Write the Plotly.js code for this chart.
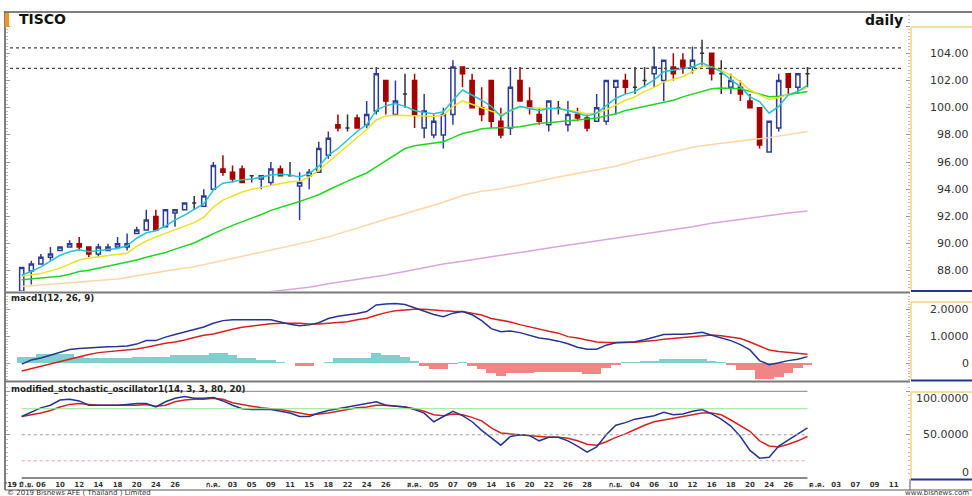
<!DOCTYPE html>
<html><head><meta charset="utf-8">
<script src="https://cdn.plot.ly/plotly-3.0.1.min.js"></script>
<style>html,body{margin:0;padding:0;background:#fff;}#chart{width:972px;height:496px;}</style>
</head><body><div id="chart"></div>
<script>
// ---------------- DATA ----------------
const openP = [86.5,88.0,88.5,89.0,89.5,89.75,90.0,89.75,89.25,89.5,
 89.75,89.75,90.75,91.0,92.0,91.25,92.25,92.5,93.0,92.75,
 94.0,95.5,95.25,95.5,95.0,94.75,94.5,95.5,95.0,94.25,
 95.0,95.25,96.5,98.75,98.5,99.25,98.75,99.75,102.0,99.5,
 101.0,102.0,98.5,98.0,98.0,99.5,103.0,102.0,100.0,102.0,
 99.0,98.5,102.0,100.5,99.5,98.75,100.0,98.75,99.5,99.25,
 99.0,99.0,101.5,102.0,101.5,102.0,102.5,102.0,103.0,103.5,
 103.0,104.0,104.0,102.5,101.5,101.5,100.5,100.0,96.75,98.5,
 102.5,101.5,102.5];
const highP = [88.25,88.75,89.25,89.75,89.75,90.25,90.5,89.75,90.0,90.0,
 90.5,90.75,91.25,92.5,92.5,92.5,92.5,93.0,93.5,94.0,
 96.0,96.5,95.75,95.75,95.0,95.0,96.0,95.75,96.0,95.25,
 95.5,97.5,98.25,99.5,99.5,99.5,100.5,103.0,102.0,102.0,
 102.5,102.5,101.0,99.5,100.0,103.5,103.0,102.5,101.5,102.0,
 100.0,103.0,103.0,101.5,100.0,100.5,100.5,100.5,100.0,99.5,
 101.0,102.0,102.0,102.5,103.0,103.0,104.5,103.5,104.0,104.0,
 104.5,105.0,104.0,103.5,102.5,102.0,101.0,100.0,99.0,102.5,
 102.5,102.5,103.0];
const lowP = [86.5,87.0,88.5,88.75,89.5,89.75,89.5,89.0,89.0,89.5,
 89.75,89.5,90.75,91.0,91.0,91.25,91.25,92.5,92.5,92.75,
 94.0,95.0,94.5,94.5,94.5,94.0,94.25,95.0,95.0,91.75,
 94.0,95.25,96.25,98.25,98.25,98.5,98.5,99.5,99.5,99.5,
 100.0,98.5,97.75,97.75,97.0,98.75,101.5,100.0,99.0,98.5,
 97.75,98.0,100.5,99.5,98.75,98.25,99.5,98.25,99.0,98.25,
 99.0,98.75,99.5,101.0,101.0,101.5,101.5,100.5,102.0,102.5,
 102.5,103.0,102.0,101.0,101.0,100.5,100.0,97.0,96.75,98.25,
 101.0,101.0,101.5];
const closeP = [88.25,88.5,89.0,89.25,89.75,90.0,89.75,89.25,89.75,89.75,
 90.0,90.0,91.0,91.75,91.0,92.5,92.5,93.0,93.0,93.5,
 95.75,95.25,94.75,94.5,95.0,95.0,95.5,95.0,95.0,94.5,
 95.25,97.0,97.75,98.5,98.5,98.5,99.5,102.5,100.5,100.5,
 101.0,99.5,99.75,99.0,99.5,103.0,102.5,100.0,99.5,99.0,
 98.0,101.5,100.5,100.0,99.0,100.5,100.0,99.5,99.25,98.5,
 100.0,102.0,102.0,101.5,101.5,102.0,103.0,103.5,102.5,103.0,
 103.5,104.0,102.5,102.5,102.0,101.0,100.0,97.25,99.0,102.0,
 101.5,102.5,102.5];

// moving averages (cyan, yellow, green: one reading per session)
const maCyan = [87.7,87.95,88.3,88.7,89.15,89.4,89.55,89.4,89.5,89.6,
 89.65,89.85,90.4,90.8,90.95,91.3,91.75,92.1,92.5,92.95,
 93.95,94.45,94.55,94.7,94.75,94.9,95.05,95.1,95.05,94.9,
 95.15,95.7,96.5,97.0,97.6,98.25,98.75,99.8,100.15,100.3,
 100.1,99.8,99.65,99.55,99.7,100.55,101.3,100.95,100.55,100.1,
 99.35,99.8,100.1,99.95,99.8,99.95,99.95,99.8,99.6,99.4,
 99.6,100.15,100.7,101.0,101.2,101.6,102.05,102.65,102.75,102.9,
 103.0,103.3,103.0,102.65,102.05,101.55,100.8,100.45,99.6,100.1,
 100.95,101.2,101.65];
const maYellow = [87.6,87.7,87.8,88.0,88.2,88.5,88.8,88.95,89.05,89.1,
 89.2,89.3,89.8,90.2,90.5,90.75,91.0,91.3,91.55,91.95,
 92.7,93.2,93.5,93.8,94.0,94.15,94.3,94.45,94.55,94.6,
 94.9,95.4,96.0,96.6,97.2,97.8,98.4,99.1,99.4,99.45,
 99.45,99.4,99.4,99.35,99.45,100.1,100.5,100.25,100.0,99.8,
 99.5,99.75,100.05,100.0,99.95,99.95,99.95,99.85,99.7,99.55,
 99.6,99.85,100.2,100.55,100.8,101.2,101.5,101.9,102.1,102.3,
 102.65,103.1,103.0,102.75,102.4,101.9,101.3,100.95,100.6,100.75,
 100.95,101.2,101.5];
const maGreen = [87.35,87.4,87.45,87.5,87.6,87.75,87.95,88.05,88.2,88.3,
 88.45,88.6,88.8,89.0,89.15,89.35,89.6,89.8,90.05,90.4,
 90.75,91.05,91.35,91.6,91.85,92.15,92.45,92.65,92.85,93.1,
 93.35,93.6,93.95,94.3,94.6,94.9,95.2,95.65,96.1,96.6,
 97.0,97.2,97.3,97.4,97.5,97.8,98.1,98.25,98.45,98.5,
 98.5,98.55,98.6,98.75,98.85,98.9,99.0,99.05,99.1,99.15,
 99.25,99.4,99.55,99.8,99.95,100.05,100.25,100.4,100.55,100.8,
 101.0,101.25,101.4,101.45,101.45,101.4,101.2,101.0,100.8,100.85,
 100.95,101.05,101.2];
// slow averages (readings every second session)
const maPeachIdx = [0,2,4,6,8,10,12,14,16,18,20,22,24,26,28,30,32,34,36,38,40,
 42,44,46,48,50,52,54,56,58,60,62,64,66,68,70,72,74,76,78,80,82];
const maPeach = [86.85,86.95,87.05,87.15,87.25,87.4,87.65,87.9,88.1,88.3,88.6,
 88.95,89.25,89.5,89.8,90.15,90.5,90.95,91.35,91.8,92.2,
 92.6,93.05,93.55,93.85,94.05,94.3,94.6,94.9,95.15,95.4,
 95.7,96.1,96.45,96.8,97.1,97.3,97.5,97.65,97.8,98.0,98.25];
const maPurpleIdx = [22,24,26,28,30,32,34,36,38,40,42,44,46,48,50,52,54,56,58,60,
 62,64,66,68,70,72,74,76,78,80,82];
const maPurple = [86.15,86.3,86.5,86.65,86.8,87.05,87.25,87.45,87.7,87.95,
 88.25,88.5,88.7,88.95,89.15,89.35,89.6,89.8,90.0,90.2,
 90.4,90.6,90.85,91.05,91.25,91.5,91.7,91.9,92.1,92.25,92.4];
const priceLevels = [104.4, 102.9];

const macdLine = [-0.03,0.12,0.2,0.31,0.42,0.52,0.55,0.58,0.6,0.62,
 0.63,0.65,0.72,0.85,0.85,0.98,1.08,1.17,1.27,1.36,
 1.5,1.6,1.63,1.63,1.63,1.63,1.63,1.55,1.46,1.41,
 1.44,1.52,1.68,1.76,1.81,1.87,1.94,2.19,2.22,2.24,
 2.2,2.08,1.96,1.83,1.75,1.88,1.94,1.82,1.6,1.3,
 1.18,1.21,1.15,1.05,0.95,0.9,0.83,0.73,0.6,0.53,
 0.53,0.68,0.77,0.79,0.81,0.88,0.98,1.08,1.09,1.09,
 1.12,1.16,1.05,0.95,0.85,0.7,0.5,0.1,-0.05,0.02,
 0.1,0.15,0.25];
const signalLine = [-0.29,-0.2,-0.12,-0.03,0.07,0.17,0.25,0.33,0.4,0.43,
 0.46,0.49,0.54,0.6,0.68,0.75,0.8,0.87,0.97,1.05,
 1.1,1.2,1.28,1.35,1.4,1.45,1.48,1.5,1.5,1.5,
 1.47,1.47,1.5,1.53,1.56,1.63,1.69,1.8,1.9,1.97,
 2.0,2.03,2.03,1.99,1.97,1.95,1.94,1.88,1.81,1.68,
 1.62,1.55,1.45,1.36,1.28,1.2,1.13,1.0,0.95,0.88,
 0.8,0.78,0.77,0.78,0.79,0.81,0.85,0.9,0.93,0.97,
 1.0,1.03,1.06,1.03,0.98,0.93,0.8,0.65,0.5,0.44,
 0.4,0.37,0.34];
const macdHist = [0.25,0.25,0.34,0.34,0.34,0.34,0.25,0.19,0.19,0.19,
 0.19,0.19,0.25,0.25,0.25,0.25,0.31,0.31,0.31,0.31,
 0.4,0.4,0.31,0.19,0.19,0.12,0.12,0.06,0.02,-0.09,
 -0.09,0.0,0.06,0.19,0.19,0.19,0.19,0.4,0.31,0.31,
 0.25,0.09,-0.1,-0.22,-0.22,-0.03,0.03,-0.1,-0.22,-0.375,
 -0.475,-0.375,-0.375,-0.375,-0.31,-0.31,-0.31,-0.31,-0.31,-0.4,
 -0.4,-0.19,-0.06,0.03,0.03,0.1,0.1,0.16,0.16,0.16,
 0.16,0.16,0.09,0.03,-0.06,-0.25,-0.25,-0.6,-0.6,-0.5,
 -0.375,-0.19,-0.06];

const stochK = [71,76,81,84,90,91,89,84,84,84,
 84,85,86,86,82,88,92,94,92,92,
 93,89,84,80,79,79,79,77,75,71,
 71,75,78,80,82,84,86,88,84,83,
 82,79,75,65,71,77,72,65,55,46,
 38,48,50,49,43,47,47,43,37,30,
 36,50,61,64,68,70,72,76,73,74,
 77,79,74,68,60,48,32,23,24,37,
 44,52,58];
const stochD = [71,73,75,78,82,85,86,85,84,84,
 84,84,84,85,83,84,88,90,91,91,
 92,91,87,85,83,81,80,79,77,75,
 73,74,75,77,79,81,82,84,84,83,
 82,80,77,73,72,74,73,70,66,58,
 52,51,50,49,48,47,47,46,43,39,
 38,42,47,51,56,61,65,67,69,71,
 73,75,75,73,67,60,54,43,37,36,
 39,43,48];
const stochLevels = [100, 80, 50, 20, 0];

// axis labels
const yearLabel = "'19";
const tickIdx = [0.5,2,4,6,8,10,12,14,16,20,22,24,26,28,30,32,34,36,38,
 41,43,45,47,49,51,53,55,57,59,62,64,66,68,70,72,74,76,78,80,83,85,87,89,91];
const tickText = ["มิ.ย.","06","10","12","14","18","20","24","26",
 "ก.ค.","03","05","09","11","15","18","22","24","26",
 "ส.ค.","05","07","09","14","16","20","22","26","28",
 "ก.ย.","04","06","10","12","16","18","20","24","26",
 "ต.ค.","03","07","09","11"];
const priceTicks = [88,90,92,94,96,98,100,102,104];
const priceTickText = ["88.00","90.00","92.00","94.00","96.00","98.00","100.00","102.00","104.00"];
const macdTicks = [0,1,2];
const macdTickText = ["0","1.0000","2.0000"];
const stochTicks = [0,50,100];
const stochTickText = ["0","50.0000","100.0000"];

// ---------------- LAYOUT HELPERS ----------------
const W = 972, H = 496, ML = 6, MR = 62, MT = 12, MB = 17;
const PW = W - ML - MR, PH = H - MT - MB;
const fx = p => (p - ML) / PW;
const fy = p => (H - MB - p) / PH;

const FONT = "DejaVu Sans, Noto Sans, Liberation Sans, sans-serif";
const NAVY = '#2b3d98', DRED = '#a40000';

const idx = closeP.map((_, i) => i);
const isDoji = idx.map(i => openP[i] === closeP[i]);
const bodyIds = idx.filter(i => !isDoji[i]);
const dojiIds = idx.filter(i => isDoji[i]);
const pick = (arr, ids) => ids.map(i => arr[i]);
const lastIdx = idx[idx.length - 1];

const traces = [];
traces.push({type:'candlestick', xaxis:'x', yaxis:'y',
  x: bodyIds, open: pick(openP, bodyIds), high: pick(highP, bodyIds),
  low: pick(lowP, bodyIds), close: pick(closeP, bodyIds),
  increasing:{line:{color:NAVY, width:1.5}, fillcolor:'#ffffff'},
  decreasing:{line:{color:DRED, width:1.5}, fillcolor:DRED},
  hoverinfo:'skip', showlegend:false});
traces.push({type:'candlestick', xaxis:'x', yaxis:'y',
  x: dojiIds, open: pick(openP, dojiIds), high: pick(highP, dojiIds),
  low: pick(lowP, dojiIds), close: pick(closeP, dojiIds),
  increasing:{line:{color:'#333333', width:1.5}, fillcolor:'#333333'},
  decreasing:{line:{color:'#333333', width:1.5}, fillcolor:'#333333'},
  hoverinfo:'skip', showlegend:false});

const line = (x, y, color, yaxis, width) => ({type:'scatter', mode:'lines', x, y,
  xaxis:'x', yaxis, line:{color, width: width || 1.5}, hoverinfo:'skip', showlegend:false});
traces.push(line(maPurpleIdx, maPurple, '#d9a6dc', 'y'));
traces.push(line(maPeachIdx, maPeach, '#ffd5a6', 'y'));
traces.push(line(idx, maGreen, '#22d422', 'y'));
traces.push(line(idx, maYellow, '#ece21e', 'y'));
traces.push(line(idx, maCyan, '#25c3d3', 'y'));

traces.push({type:'bar', x: idx, y: macdHist, xaxis:'x', yaxis:'y2', width: 1,
  marker:{color: macdHist.map(v => v >= 0 ? '#7fcfcf' : '#f08585'), line:{width:0}},
  hoverinfo:'skip', showlegend:false});
traces.push(line(idx, signalLine, '#d62222', 'y2'));
traces.push(line(idx, macdLine, '#27358e', 'y2'));

traces.push(line(idx, stochD, '#d62222', 'y3'));
traces.push(line(idx, stochK, '#27358e', 'y3'));

// ranges calibrated from the picture's axis labels
const priceDom = [fy(291), fy(12)], macdDom = [fy(381), fy(294)], stochDom = [0, fy(386)];
const priceRange = [86.52, 107.04], macdRange = [-0.664, 2.598], stochRange = [-1, 106.2];

const shapes = [];
const hl = (y, x0, x1, color, width, dash) => shapes.push({type:'line', xref:'paper', yref:'paper',
  x0: fx(x0), x1: fx(x1), y0: fy(y), y1: fy(y), line:{color, width, dash: dash || 'solid'}});
const vl = (x, y0, y1, color, width) => shapes.push({type:'line', xref:'paper', yref:'paper',
  x0: fx(x), x1: fx(x), y0: fy(y0), y1: fy(y1), line:{color, width}});

// frame
hl(12, 4, 972, '#555', 1.5);
vl(5, 12, 490, '#555', 1.5);
hl(292.5, 5, 910, '#7a7a7a', 2.2);
hl(381.5, 5, 910, '#7a7a7a', 2.2);
hl(490, 5, 972, '#555', 1);
vl(910, 479, 490, '#555', 1);
// right axis boxes
const GOLD = '#f4d47e', BOXNAVY = '#22358f';
[[27, 291], [302, 380.5], [392, 479.5]].forEach(([t, b]) => {
  vl(911, t, b, GOLD, 1.5);
  hl(t, 911, 972, GOLD, 1.5);
  hl(b, 911, 972, BOXNAVY, 2);
});
// orange marker by the title
shapes.push({type:'rect', xref:'paper', yref:'paper', x0: fx(5), x1: fx(9), y0: fy(27), y1: fy(13),
  fillcolor:'#f7941d', line:{width:0}});
// price reference lines (dotted)
priceLevels.forEach(v => shapes.push({type:'line', xref:'paper', yref:'y', x0: fx(10), x1: fx(902),
  y0: v, y1: v, line:{color:'#444', width:1.2, dash:'dot'}}));
// stochastic reference levels, over the data span
const levelStyle = {100:{c:'#9a9a9a', w:1.2, d:'solid'}, 80:{c:'#8fe88f', w:1, d:'solid'},
  50:{c:'#9a9a9a', w:1, d:'dot'}, 20:{c:'#ff9a9a', w:1, d:'dot'}, 0:{c:'#8a8a8a', w:2.2, d:'solid'}};
stochLevels.forEach(v => shapes.push({type:'line', xref:'x', yref:'y3', x0: idx[0], x1: lastIdx,
  y0: v, y1: v, line:{color: levelStyle[v].c, width: levelStyle[v].w, dash: levelStyle[v].d}}));

// annotations
const ann = [];
const txt = (text, x, y, size, anchorX, opts) => ann.push(Object.assign({text, xref:'paper', yref:'paper',
  x: fx(x), y: fy(y), xanchor: anchorX, yanchor:'middle', showarrow:false,
  font:{family: FONT, size, color:'#111'}}, opts || {}));
txt('<b>TISCO</b>', 17, 19, 14, 'left');
txt('<b>daily</b>', 905, 19.5, 14, 'right');
txt('<b>macd1(12, 26, 9)</b>', 9, 298, 8.7, 'left', {font:{family:FONT, size:8.7, color:'#222'}});
txt('<b>modified_stochastic_oscillator1(14, 3, 3, 80, 20)</b>', 9, 388.5, 8.7, 'left', {font:{family:FONT, size:8.7, color:'#222'}});
txt('<b>' + yearLabel + '</b>', 3, 485, 7, 'left', {font:{family:FONT, size:7, color:'#222'}});
txt('© 2019 Bisnews AFE ( Thailand ) Limited', 5, 493, 7, 'left', {font:{family:FONT, size:7, color:'#333'}});
txt('www.bisnews.com', 971, 493, 7, 'right', {font:{family:FONT, size:7, color:'#333'}});

// right-aligned axis labels, kept inside each axis box
function axisLabels(ticks, texts, yref, range, dom, boxTop, boxBot) {
  ticks.forEach((v, k) => {
    const frac = (v - range[0]) / (range[1] - range[0]);
    const ypx = H - MB - (dom[0] + frac * (dom[1] - dom[0])) * PH;
    let shift = 0;
    if (ypx - 6 < boxTop) shift = -(boxTop + 6 - ypx);
    if (ypx + 6 > boxBot) shift = (ypx + 6 - boxBot);
    ann.push({text: texts[k], xref:'paper', yref, x: fx(971), y: v, xanchor:'right', yanchor:'middle',
      yshift: shift, showarrow:false, font:{family: FONT, size: 11, color:'#333'}});
  });
}
axisLabels(priceTicks, priceTickText, 'y', priceRange, priceDom, 27, 291);
axisLabels(macdTicks, macdTickText, 'y2', macdRange, macdDom, 302, 380);
axisLabels(stochTicks, stochTickText, 'y3', stochRange, stochDom, 392, 479);

const yBase = {showgrid:false, zeroline:false, showline:false, showticklabels:false, fixedrange:true};
const layout = {
  width: W, height: H, margin:{l:ML, r:MR, t:MT, b:MB, pad:0},
  paper_bgcolor:'#ffffff', plot_bgcolor:'#ffffff', showlegend:false, hovermode:false,
  boxgap: 0.38, bargap: 0,
  xaxis:{domain:[0,1], range:[-1.64, 92.7], anchor:'y3', showgrid:false, zeroline:false, showline:false,
    rangeslider:{visible:false}, tickmode:'array', tickvals: tickIdx,
    ticktext: tickText.map(t => '<b>' + t + '</b>'), tickangle:0, ticks:'',
    tickfont:{family: FONT, size:7, color:'#333'}, fixedrange:true},
  yaxis: Object.assign({}, yBase, {domain: priceDom, range: priceRange, side:'right', anchor:'x',
    ticks:'inside', ticklen:4, tickcolor:'#999', dtick:2, tick0:0,
    minor:{dtick:0.25, ticklen:2, tickcolor:'#bbb', ticks:'inside'}}),
  yaxis2: Object.assign({}, yBase, {domain: macdDom, range: macdRange, side:'right', anchor:'x',
    ticks:'inside', ticklen:4, tickcolor:'#999', dtick:1, tick0:0,
    minor:{dtick:0.1, ticklen:2, tickcolor:'#bbb', ticks:'inside'}}),
  yaxis3: Object.assign({}, yBase, {domain: stochDom, range: stochRange, side:'right', anchor:'x',
    ticks:'inside', ticklen:4, tickcolor:'#999', dtick:50, tick0:0,
    minor:{dtick:5, ticklen:2, tickcolor:'#bbb', ticks:'inside'}}),
  yaxis4: Object.assign({}, yBase, {overlaying:'y', range: priceRange, side:'left',
    ticks:'inside', ticklen:4, tickcolor:'#999', dtick:2, tick0:0,
    minor:{dtick:0.25, ticklen:2, tickcolor:'#bbb', ticks:'inside'}}),
  yaxis5: Object.assign({}, yBase, {overlaying:'y2', range: macdRange, side:'left',
    ticks:'inside', ticklen:4, tickcolor:'#999', dtick:1, tick0:0,
    minor:{dtick:0.1, ticklen:2, tickcolor:'#bbb', ticks:'inside'}}),
  yaxis6: Object.assign({}, yBase, {overlaying:'y3', range: stochRange, side:'left',
    ticks:'inside', ticklen:4, tickcolor:'#999', dtick:50, tick0:0,
    minor:{dtick:5, ticklen:2, tickcolor:'#bbb', ticks:'inside'}}),
  shapes, annotations: ann
};
// dummy traces so the overlay tick axes are drawn
['y4','y5','y6'].forEach(a => traces.push({type:'scatter', mode:'lines', x:[], y:[], xaxis:'x', yaxis:a,
  hoverinfo:'skip', showlegend:false}));

Plotly.newPlot('chart', traces, layout, {staticPlot:true, displayModeBar:false});
</script></body></html>
